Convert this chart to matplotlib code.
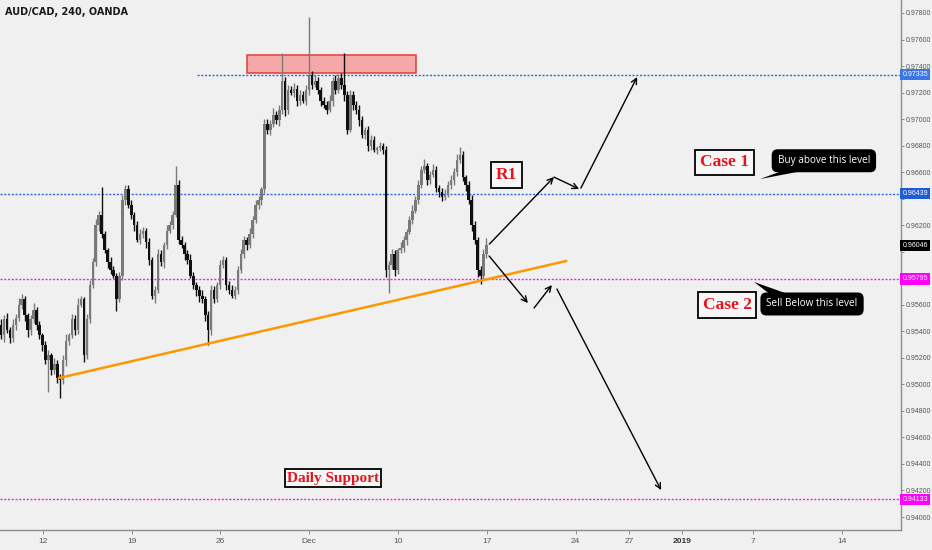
import matplotlib
matplotlib.use('Agg')
import matplotlib.pyplot as plt
import matplotlib.transforms as mtransforms
from matplotlib.patches import Rectangle, Polygon
import numpy as np

# ---------------- data (AUD/CAD 4H candles) ----------------
first_open = 0.9545
closes = [
    0.9537, 0.9549, 0.9541, 0.9535, 0.9545, 0.9550, 0.9560, 0.9564, 0.9552, 0.9541,
    0.9549, 0.9556, 0.9545, 0.9537, 0.9530, 0.9518, 0.9522, 0.9511, 0.9515, 0.9505,
    0.9503, 0.9518, 0.9533, 0.9537, 0.9549, 0.9541, 0.9560, 0.9564, 0.9522, 0.9549,
    0.9575, 0.9592, 0.9620, 0.9628, 0.9613, 0.9601, 0.9592, 0.9586, 0.9582, 0.9564,
    0.9582, 0.9639, 0.9647, 0.9635, 0.9628, 0.9620, 0.9609, 0.9613, 0.9616, 0.9607,
    0.9594, 0.9567, 0.9571, 0.9598, 0.9592, 0.9605, 0.9616, 0.9620, 0.9628, 0.9650,
    0.9609, 0.9605, 0.9598, 0.9594, 0.9582, 0.9575, 0.9571, 0.9567, 0.9564, 0.9552,
    0.9541, 0.9571, 0.9564, 0.9575, 0.9590, 0.9594, 0.9575, 0.9571, 0.9567, 0.9571,
    0.9586, 0.9598, 0.9609, 0.9605, 0.9613, 0.9624, 0.9635, 0.9639, 0.9647, 0.9696,
    0.9692, 0.9696, 0.9703, 0.9699, 0.9707, 0.9729, 0.9707, 0.9722, 0.9720, 0.9723,
    0.9714, 0.9718, 0.9714, 0.9722, 0.9733, 0.9726, 0.9729, 0.9722, 0.9714, 0.9711,
    0.9707, 0.9714, 0.9729, 0.9722, 0.9731, 0.9726, 0.9718, 0.9692, 0.9718, 0.9711,
    0.9707, 0.9699, 0.9688, 0.9692, 0.9680, 0.9684, 0.9677, 0.9678, 0.9680, 0.9677, 0.9586,
    0.9590, 0.9598, 0.9586, 0.9601, 0.9603, 0.9609, 0.9615, 0.9624, 0.9631, 0.9639,
    0.9650, 0.9662, 0.9665, 0.9654, 0.9658, 0.9662, 0.9648, 0.9645, 0.9641, 0.9643,
    0.9650, 0.9654, 0.9660, 0.9669, 0.9673, 0.9656, 0.9650, 0.9639, 0.9620, 0.9609,
    0.9586, 0.9582, 0.9598, 0.9605,
]
# wick lengths in pips (0.0001) above max(open, close) and below min(open, close)
upper_wick_pips = [
    4, 3, 5, 2, 4, 3, 5, 4, 3, 2,
    3, 5, 2, 3, 2, 3, 4, 2, 5, 3,
    3, 4, 5, 2, 4, 3, 5, 3, 2, 4,
    4, 3, 5, 3, 21, 3, 2, 4, 3, 2,
    3, 4, 3, 3, 4, 2, 3, 4, 3, 2,
    3, 2, 3, 4, 3, 2, 4, 3, 3, 15,
    4, 3, 2, 3, 4, 3, 2, 3, 4, 3,
    3, 4, 3, 2, 4, 3, 2, 3, 4, 3,
    3, 4, 3, 2, 5, 3, 4, 3, 2, 4,
    4, 3, 5, 3, 4, 21, 3, 4, 3, 4,
    3, 4, 3, 4, 44, 3, 4, 3, 2, 3,
    3, 4, 3, 4, 3, 4, 24, 3, 4, 3,
    3, 4, 3, 2, 3, 4, 3, 2, 3, 2, 3,
    3, 4, 3, 2, 4, 3, 2, 3, 4, 3,
    4, 3, 5, 2, 3, 4, 3, 2, 3, 4,
    3, 4, 3, 5, 6, 3, 2, 3, 4, 3,
    2, 3, 4, 5,
]
lower_wick_pips = [
    3, 5, 2, 4, 3, 4, 2, 3, 4, 5,
    4, 3, 4, 3, 5, 3, 24, 4, 3, 4,
    13, 3, 4, 3, 2, 4, 3, 2, 5, 3,
    3, 2, 3, 4, 3, 2, 4, 3, 2, 9,
    2, 3, 4, 2, 3, 4, 2, 3, 3, 4,
    4, 3, 6, 2, 3, 4, 3, 2, 3, 2,
    3, 2, 4, 3, 2, 3, 4, 5, 3, 4,
    11, 4, 3, 2, 3, 2, 4, 3, 2, 3,
    3, 2, 3, 4, 2, 3, 2, 3, 4, 3,
    3, 4, 2, 3, 4, 3, 5, 3, 2, 3,
    4, 3, 2, 3, 4, 3, 2, 3, 4, 3,
    3, 2, 4, 3, 2, 3, 4, 3, 2, 4,
    3, 4, 2, 3, 4, 3, 2, 3, 2, 3, 5,
    17, 3, 4, 3, 2, 3, 4, 2, 3, 2,
    3, 2, 3, 4, 3, 2, 3, 4, 3, 2,
    2, 3, 4, 3, 2, 3, 4, 3, 4, 3,
    5, 6, 3, 3,
]

tick_days = [0, 5, 10, 15, 20, 25, 30, 33, 36, 40, 45]   # trading days from 12 Nov
tick_labels = ['12', '19', '26', 'Dec', '10', '17', '24', '27', '2019', '7', '14']
price_ticks = [0.940, 0.942, 0.944, 0.946, 0.948, 0.950, 0.952, 0.954, 0.956, 0.958,
               0.960, 0.962, 0.964, 0.966, 0.968, 0.970, 0.972, 0.974, 0.976, 0.978]

level_top = 0.97335
level_case1 = 0.96439
level_case2 = 0.95795
level_daily = 0.94133
last_price = 0.96046

# ---------------- figure ----------------
BG = '#f0f0f0'
fig = plt.figure(figsize=(9.32, 5.5), dpi=100, facecolor=BG)
ax = fig.add_axes([0, 20 / 550, 901 / 932, 530 / 550])
ax.set_facecolor(BG)

n = len(closes)
idx = np.arange(n)
closes_a = np.array(closes)
opens_a = np.array([first_open] + closes[:-1])
highs = np.maximum(opens_a, closes_a) + np.array(upper_wick_pips) * 0.0001
lows = np.minimum(opens_a, closes_a) - np.array(lower_wick_pips) * 0.0001
up = closes_a >= opens_a
cols = np.where(up, '#7a7a7a', '#101010')

ax.vlines(idx, lows, highs, colors=cols, linewidth=1.0, zorder=3)
bottoms = np.minimum(opens_a, closes_a)
heights = np.maximum(np.abs(closes_a - opens_a), 0.00006)
ax.bar(idx, heights, bottom=bottoms, width=0.85, color=cols, linewidth=0, zorder=3)

X0, X1 = -0.34, 304.05
Y0, Y1 = 0.93902, 0.97898
ax.set_xlim(X0, X1)
ax.set_ylim(Y0, Y1)

# horizontal levels
BLUE = '#2f63e0'
MAG = '#ee22ee'
ax.plot([66.2, X1], [level_top, level_top], color=BLUE, lw=1.0, ls=(0, (1.5, 1.2)), zorder=2)
ax.axhline(level_case1, color=BLUE, lw=1.0, ls=(0, (1.5, 1.2)), zorder=2)
ax.axhline(level_case2, color=MAG, lw=1.0, ls=(0, (1.5, 1.2)), zorder=2)
ax.axhline(level_daily, color=MAG, lw=1.0, ls=(0, (1.5, 1.2)), zorder=2)

# red resistance box
ax.add_patch(Rectangle((83.0, 0.97345), 140.2 - 83.0, 0.97483 - 0.97345,
                       facecolor='#f5a0a0', edgecolor='#e53935', lw=1.2, alpha=0.9, zorder=2))

# orange trend line
ax.plot([19.6, 190.9], [0.95048, 0.95930], color='#ff9800', lw=1.8, zorder=4)

# arrows
def arrow(p0, p1):
    ax.annotate('', xy=p1, xytext=p0,
                arrowprops=dict(arrowstyle='->', color='black', lw=1.0,
                                shrinkA=0, shrinkB=0, mutation_scale=10), zorder=5)

arrow((165.0, 0.96058), (186.8, 0.96563))
arrow((186.8, 0.96563), (195.3, 0.96473))
arrow((195.9, 0.96480), (214.9, 0.97317))
arrow((164.9, 0.95968), (178.0, 0.95613))
arrow((180.1, 0.95576), (186.1, 0.95749))
arrow((187.8, 0.95719), (223.0, 0.94203))

# red labelled boxes
def redbox(x, y, s, fs=12.5, pad=0.28):
    ax.text(x, y, s, ha='center', va='center', color='#e8141c', fontsize=fs,
            fontweight='bold', family='Liberation Serif', zorder=6,
            bbox=dict(boxstyle='square,pad=%.2f' % pad, facecolor='#f7f7f7',
                      edgecolor='black', lw=1.3))

redbox(170.8, 0.96576, 'R1')
redbox(244.3, 0.96673, 'Case 1')
redbox(245.3, 0.95598, 'Case 2')
redbox(112.2, 0.94294, 'Daily Support', fs=11, pad=0.15)

# black callouts
def callout(x, y, s, tail):
    ax.add_patch(Polygon(tail, closed=True, facecolor='black', edgecolor='none', zorder=6))
    ax.text(x, y, s, ha='center', va='center', color='white', fontsize=7.2,
            family='Open Sans', zorder=7,
            bbox=dict(boxstyle='round,pad=0.6,rounding_size=0.6', facecolor='black',
                      edgecolor='none'))

callout(278.0, 0.96686, 'Buy above this level',
        [(264.0, 0.96610), (271.0, 0.96610), (256.4, 0.96548)])
callout(274.0, 0.95606, 'Sell Below this level',
        [(259.8, 0.95680), (266.0, 0.95680), (254.4, 0.95772)])

# axes styling
for s in ['top', 'left']:
    ax.spines[s].set_visible(False)
ax.spines['right'].set_color('#8c8c8c')
ax.spines['bottom'].set_color('#8c8c8c')
ax.spines['right'].set_linewidth(1.0)
ax.spines['bottom'].set_linewidth(1.0)

badge_levels = [level_top, level_case1, last_price, level_case2, level_daily]
ax.yaxis.tick_right()
ax.set_yticks(price_ticks)
ax.set_yticklabels(['' if min(abs(p - b) for b in badge_levels) < 0.0005 else '%.5f' % p
                    for p in price_ticks])
ax.tick_params(axis='y', length=2.5, width=0.7, color='#8c8c8c', pad=1.0,
               labelsize=5.0, labelcolor='#555555')
for lab in ax.get_yticklabels():
    lab.set_family('Liberation Sans')
ax.set_xticks([14.1 + 6 * d for d in tick_days])
ax.set_xticklabels(tick_labels)
ax.tick_params(axis='x', length=3, width=0.7, color='#8c8c8c', pad=3,
               labelsize=6, labelcolor='#555555')
for lab in ax.get_xticklabels():
    lab.set_family('Liberation Sans')
    if lab.get_text() == '2019':
        lab.set_fontweight('bold')
        lab.set_color('#333333')

# price badges on the right axis
trans = mtransforms.blended_transform_factory(ax.transAxes, ax.transData)
def badge(y, color, fg='white'):
    ax.text(1.0015, y, '%.5f' % y, transform=trans, ha='left', va='center',
            fontsize=5.0, family='Liberation Sans', color=fg, clip_on=False, zorder=10,
            bbox=dict(boxstyle='square,pad=0.3', facecolor=color, edgecolor='none'))

badge(level_top, '#3b78e7')
badge(level_case1, '#1e5bd6')
badge(last_price, '#000000')
badge(level_case2, '#ff00ff')
badge(level_daily, '#ff00ff')

fig.text(5 / 932, 1 - 12 / 550, 'AUD/CAD, 240, OANDA', ha='left', va='center',
         fontsize=7, fontweight='bold', color='#1a1a1a')

fig.savefig('out.png', dpi=100, facecolor=BG)
